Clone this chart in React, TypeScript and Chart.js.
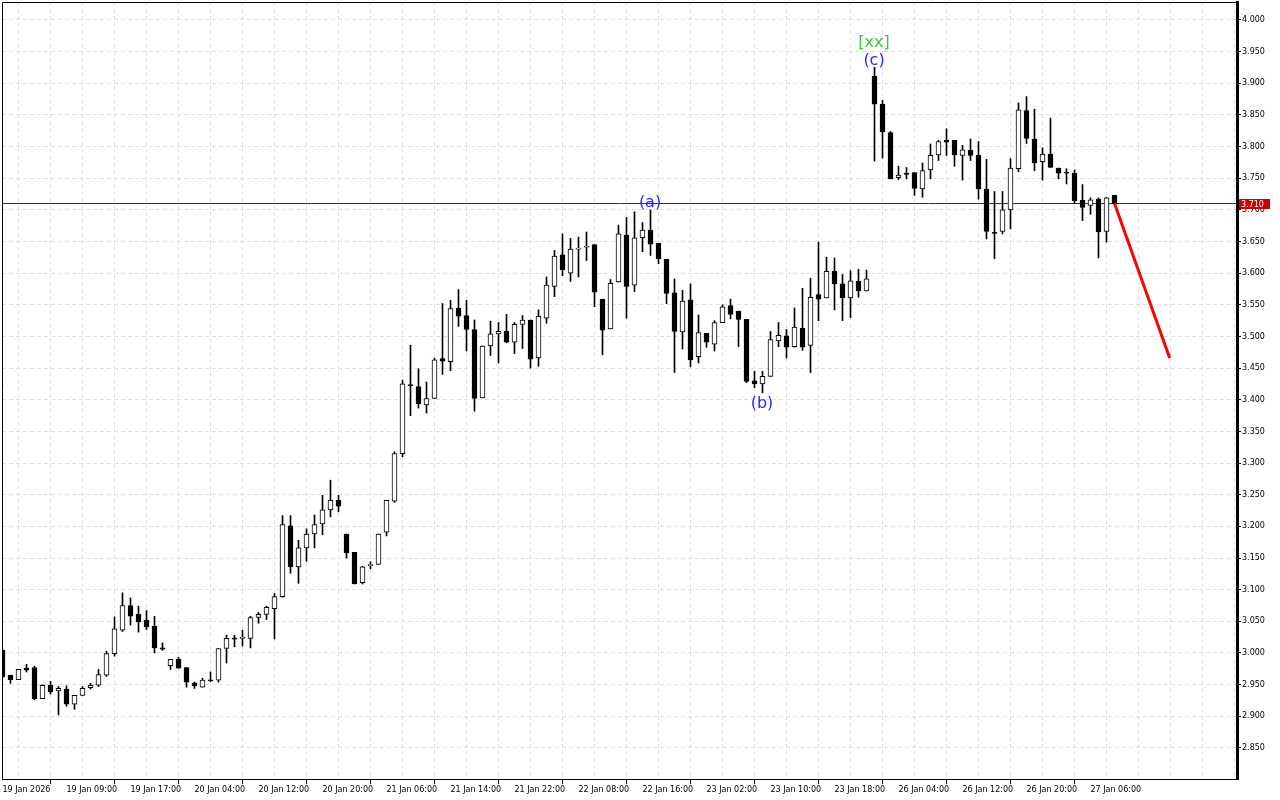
import React, { useEffect, useRef } from "react";
import { Chart, registerables } from "chart.js";

Chart.register(...registerables);

// OHLC per hourly bar (index 0..139)
const opens = [
  3.004, 2.965, 2.958, 2.976, 2.977, 2.928, 2.949, 2.940, 2.943, 2.919,
  2.933, 2.945, 2.949, 2.965, 2.999, 3.036, 3.075, 3.061, 3.052, 3.042,
  3.008, 2.980, 2.990, 2.977, 2.953, 2.946, 2.957, 2.957, 3.007, 3.023,
  3.023, 3.023, 3.056, 3.061, 3.070, 3.089, 3.201, 3.136, 3.166, 3.188,
  3.204, 3.226, 3.241, 3.188, 3.159, 3.111, 3.138, 3.140, 3.191, 3.240,
  3.315, 3.424, 3.421, 3.392, 3.402, 3.465, 3.460, 3.545, 3.533, 3.511,
  3.403, 3.485, 3.504, 3.508, 3.491, 3.519, 3.526, 3.466, 3.529, 3.579,
  3.629, 3.600, 3.638, 3.641, 3.645, 3.559, 3.512, 3.586, 3.660, 3.581,
  3.656, 3.668, 3.647, 3.622, 3.569, 3.507, 3.558, 3.468, 3.505, 3.488,
  3.522, 3.549, 3.540, 3.527, 3.430, 3.425, 3.437, 3.493, 3.501, 3.484,
  3.513, 3.486, 3.566, 3.561, 3.603, 3.583, 3.561, 3.587, 3.572, 3.911,
  3.867, 3.822, 3.751, 3.757, 3.759, 3.733, 3.763, 3.787, 3.810, 3.810,
  3.786, 3.794, 3.786, 3.733, 3.664, 3.666, 3.700, 3.765, 3.857, 3.812,
  3.776, 3.788, 3.766, 3.759, 3.758, 3.715, 3.707, 3.717, 3.666, 3.723,
];

const highs = [
  3.006, 2.965, 2.974, 2.982, 2.979, 2.950, 2.955, 2.947, 2.948, 2.933,
  2.947, 2.952, 2.974, 3.003, 3.057, 3.095, 3.087, 3.074, 3.067, 3.058,
  3.016, 2.990, 2.993, 2.977, 2.954, 2.960, 2.970, 3.007, 3.028, 3.028,
  3.036, 3.058, 3.064, 3.074, 3.094, 3.217, 3.217, 3.178, 3.196, 3.218,
  3.249, 3.273, 3.249, 3.188, 3.159, 3.137, 3.144, 3.188, 3.241, 3.318,
  3.431, 3.486, 3.449, 3.428, 3.466, 3.552, 3.557, 3.574, 3.557, 3.526,
  3.485, 3.524, 3.522, 3.535, 3.522, 3.533, 3.526, 3.542, 3.594, 3.636,
  3.662, 3.655, 3.657, 3.665, 3.645, 3.559, 3.590, 3.676, 3.688, 3.697,
  3.680, 3.700, 3.647, 3.622, 3.591, 3.573, 3.583, 3.534, 3.505, 3.525,
  3.550, 3.559, 3.540, 3.527, 3.445, 3.445, 3.508, 3.522, 3.511, 3.545,
  3.576, 3.592, 3.649, 3.625, 3.624, 3.598, 3.604, 3.606, 3.605, 3.925,
  3.873, 3.824, 3.769, 3.767, 3.759, 3.774, 3.804, 3.810, 3.828, 3.810,
  3.802, 3.812, 3.808, 3.780, 3.729, 3.729, 3.781, 3.869, 3.879, 3.859,
  3.798, 3.845, 3.766, 3.765, 3.763, 3.740, 3.719, 3.719, 3.720, 3.723,
];

const lows = [
  2.960, 2.952, 2.958, 2.970, 2.926, 2.928, 2.935, 2.902, 2.916, 2.911,
  2.933, 2.943, 2.947, 2.963, 2.995, 3.034, 3.044, 3.033, 3.037, 3.000,
  3.004, 2.974, 2.976, 2.946, 2.944, 2.946, 2.955, 2.954, 2.984, 3.010,
  3.011, 3.008, 3.047, 3.053, 3.022, 3.088, 3.126, 3.110, 3.145, 3.166,
  3.187, 3.215, 3.223, 3.150, 3.109, 3.109, 3.133, 3.140, 3.185, 3.238,
  3.310, 3.375, 3.387, 3.379, 3.402, 3.440, 3.446, 3.516, 3.477, 3.382,
  3.403, 3.470, 3.458, 3.490, 3.473, 3.481, 3.450, 3.453, 3.521, 3.563,
  3.596, 3.587, 3.594, 3.620, 3.547, 3.471, 3.512, 3.586, 3.529, 3.571,
  3.634, 3.628, 3.615, 3.552, 3.443, 3.480, 3.452, 3.458, 3.483, 3.477,
  3.522, 3.528, 3.484, 3.427, 3.419, 3.411, 3.437, 3.484, 3.466, 3.483,
  3.478, 3.443, 3.525, 3.561, 3.542, 3.525, 3.530, 3.562, 3.572, 3.777,
  3.782, 3.749, 3.748, 3.749, 3.723, 3.720, 3.749, 3.778, 3.786, 3.769,
  3.747, 3.778, 3.717, 3.654, 3.623, 3.662, 3.670, 3.760, 3.805, 3.762,
  3.747, 3.767, 3.749, 3.741, 3.710, 3.683, 3.693, 3.624, 3.649, 3.710,
];

const closes = [
  2.962, 2.958, 2.974, 2.973, 2.928, 2.949, 2.939, 2.944, 2.919, 2.933,
  2.944, 2.949, 2.966, 2.999, 3.038, 3.075, 3.058, 3.049, 3.041, 3.008,
  3.006, 2.990, 2.976, 2.954, 2.948, 2.957, 2.956, 3.007, 3.023, 3.022,
  3.024, 3.056, 3.061, 3.072, 3.089, 3.203, 3.136, 3.166, 3.188, 3.203,
  3.226, 3.241, 3.232, 3.158, 3.109, 3.136, 3.139, 3.188, 3.241, 3.315,
  3.425, 3.422, 3.394, 3.402, 3.463, 3.461, 3.544, 3.532, 3.511, 3.402,
  3.485, 3.504, 3.508, 3.491, 3.519, 3.526, 3.464, 3.532, 3.581, 3.627,
  3.605, 3.638, 3.639, 3.642, 3.570, 3.510, 3.584, 3.662, 3.579, 3.656,
  3.668, 3.646, 3.623, 3.568, 3.508, 3.556, 3.463, 3.506, 3.491, 3.522,
  3.547, 3.535, 3.527, 3.429, 3.425, 3.437, 3.495, 3.502, 3.483, 3.515,
  3.483, 3.562, 3.559, 3.603, 3.583, 3.561, 3.588, 3.572, 3.591, 3.867,
  3.823, 3.749, 3.755, 3.756, 3.734, 3.762, 3.786, 3.808, 3.807, 3.787,
  3.795, 3.786, 3.733, 3.666, 3.663, 3.700, 3.766, 3.858, 3.813, 3.774,
  3.788, 3.767, 3.758, 3.758, 3.714, 3.704, 3.716, 3.665, 3.719, 3.710,
];

// time axis labels, one every 8 bars
const timeLabels = [
  "19 Jan 2026", "19 Jan 09:00", "19 Jan 17:00", "20 Jan 04:00", "20 Jan 12:00",
  "20 Jan 20:00", "21 Jan 06:00", "21 Jan 14:00", "21 Jan 22:00", "22 Jan 08:00",
  "22 Jan 16:00", "23 Jan 02:00", "23 Jan 10:00", "23 Jan 18:00", "26 Jan 04:00",
  "26 Jan 12:00", "26 Jan 20:00", "27 Jan 06:00",
];
const labelEvery = 8;
const gridEvery = 4;

const priceTicks = [
  2.85, 2.9, 2.95, 3.0, 3.05, 3.1, 3.15, 3.2, 3.25, 3.3, 3.35, 3.4,
  3.45, 3.5, 3.55, 3.6, 3.65, 3.7, 3.75, 3.8, 3.85, 3.9, 3.95, 4.0,
];

const lastPrice = 3.71;

// forecast line (bar index, price)
const projectionIdx = [139, 145.9];
const projectionPrice = [3.71, 3.466];

// wave labels
const waveText = ["(a)", "(b)", "(c)", "[xx]"];
const waveIdx = [80.94, 94.94, 108.94, 108.94];
const wavePrice = [3.7113, 3.3933, 3.9347, 3.9641];
const waveColor = ["#2a2aff", "#2a2aff", "#2a2aff", "#3fc43f"];

const X_MIN = -0.0625;
const X_MAX = 154.3125;
const Y_MIN = 2.8009;
const Y_MAX = 4.0284;

const AXIS_FONT = { family: "'DejaVu Sans'", size: 8 };

function labelFor(v: number): string {
  if (v % labelEvery !== 0) return "";
  return timeLabels[v / labelEvery] ?? "";
}

export default function App() {
  const ref = useRef<HTMLCanvasElement>(null);

  useEffect(() => {
    if (!ref.current) return;
    const idx = opens.map((_, i) => i);
    const bodies = idx.map((i) => ({ x: i, y: [opens[i], closes[i]] }));
    const wicks = idx.map((i) => ({ x: i, y: [lows[i], highs[i]] }));
    const bodyColors = idx.map((i) => (closes[i] >= opens[i] ? "#ffffff" : "#000000"));
    const gridTicks: number[] = [];
    for (let v = 0; v <= X_MAX; v += gridEvery) gridTicks.push(v);

    const framePlugin = {
      id: "frame",
      afterDatasetsDraw(chart: any) {
        const { ctx, chartArea: a } = chart;
        ctx.save();
        ctx.strokeStyle = "#000";
        ctx.lineWidth = 1;
        ctx.beginPath();
        ctx.moveTo(Math.round(a.left) + 0.5, Math.round(a.bottom));
        ctx.lineTo(Math.round(a.left) + 0.5, Math.round(a.top) + 0.5);
        ctx.lineTo(Math.round(a.right), Math.round(a.top) + 0.5);
        ctx.stroke();
        ctx.restore();
      },
    };

    const wavePlugin = {
      id: "waves",
      afterDatasetsDraw(chart: any) {
        const { ctx } = chart;
        const xs = chart.scales.x;
        const ys = chart.scales.y;
        ctx.save();
        ctx.font = "16px 'DejaVu Sans'";
        ctx.textAlign = "center";
        ctx.textBaseline = "middle";
        waveText.forEach((t, k) => {
          ctx.fillStyle = waveColor[k];
          ctx.fillText(t, xs.getPixelForValue(waveIdx[k]), ys.getPixelForValue(wavePrice[k]));
        });
        ctx.restore();
      },
    };

    const priceTagPlugin = {
      id: "priceTag",
      afterDraw(chart: any) {
        const { ctx, chartArea: a } = chart;
        const y = Math.round(chart.scales.y.getPixelForValue(lastPrice));
        ctx.save();
        ctx.fillStyle = "#c80000";
        ctx.fillRect(Math.round(a.right) + 2, y - 5, 31, 10);
        ctx.fillStyle = "#ffffff";
        ctx.font = "8px 'DejaVu Sans'";
        ctx.textAlign = "left";
        ctx.textBaseline = "middle";
        ctx.fillText(lastPrice.toFixed(3), Math.round(a.right) + 4, y + 0.5);
        ctx.restore();
      },
    };

    const chart = new Chart(ref.current, {
      type: "bar",
      data: {
        datasets: [
          {
            type: "line",
            data: [
              { x: X_MIN, y: lastPrice },
              { x: X_MAX, y: lastPrice },
            ],
            borderColor: "#9a0000",
            borderWidth: 1,
            pointRadius: 0,
            order: 5,
          } as any,
          {
            type: "bar",
            data: wicks,
            backgroundColor: "#000000",
            borderWidth: 0,
            barThickness: 1,
            grouped: false,
            order: 4,
          } as any,
          {
            type: "bar",
            data: bodies,
            backgroundColor: bodyColors,
            borderColor: "#000000",
            borderWidth: 1,
            borderSkipped: false,
            barThickness: 5,
            minBarLength: 1,
            grouped: false,
            order: 3,
          } as any,
          {
            type: "line",
            data: projectionIdx.map((x, k) => ({ x, y: projectionPrice[k] })),
            borderColor: "#ff0000",
            borderWidth: 3,
            pointRadius: 0,
            order: 0,
          } as any,
        ],
      },
      options: {
        animation: false,
        responsive: false,
        maintainAspectRatio: false,
        layout: { padding: { left: 2, top: 2, right: 0, bottom: 0 } },
        plugins: {
          legend: { display: false },
          tooltip: { enabled: false },
        },
        scales: {
          x: {
            type: "linear",
            min: X_MIN,
            max: X_MAX,
            offset: false,
            afterBuildTicks: (s: any) => {
              s.ticks = gridTicks.map((v) => ({ value: v }));
            },
            afterFit: (s: any) => {
              s.height = 21;
              s.paddingLeft = 0;
              s.paddingRight = 0;
            },
            ticks: {
              autoSkip: false,
              maxRotation: 0,
              minRotation: 0,
              align: "start",
              padding: 1,
              color: "#000",
              font: AXIS_FONT,
              callback: (v: any) => labelFor(Number(v)),
            },
            grid: {
              color: "#e0e0e0",
              lineWidth: 1,
              tickLength: 5,
              tickWidth: 1,
              tickColor: (c: any) =>
                c.tick && labelFor(Number(c.tick.value)) !== "" ? "#000" : "rgba(0,0,0,0)",
            },
            border: { color: "#000", width: 1, dash: [4, 3] },
          } as any,
          y: {
            type: "linear",
            position: "right",
            min: Y_MIN,
            max: Y_MAX,
            afterBuildTicks: (s: any) => {
              s.ticks = priceTicks.map((v) => ({ value: v }));
            },
            afterFit: (s: any) => {
              s.width = 43;
              s.paddingTop = 0;
              s.paddingBottom = 0;
            },
            ticks: {
              color: "#000",
              font: AXIS_FONT,
              padding: 1,
              callback: (v: any) => Number(v).toFixed(3),
            },
            grid: {
              color: "#e0e0e0",
              lineWidth: 1,
              tickLength: 4,
              tickColor: "#000",
            },
            border: { color: "#000", width: 3, dash: [4, 3] },
          } as any,
        },
      },
      plugins: [framePlugin, wavePlugin, priceTagPlugin],
    });

    return () => chart.destroy();
  }, []);

  return (
    <div
      style={{
        position: "absolute",
        left: 0,
        top: 0,
        width: 1280,
        height: 800,
        background: "#ffffff",
      }}
    >
      <canvas ref={ref} width={1280} height={800} style={{ display: "block" }} />
    </div>
  );
}
